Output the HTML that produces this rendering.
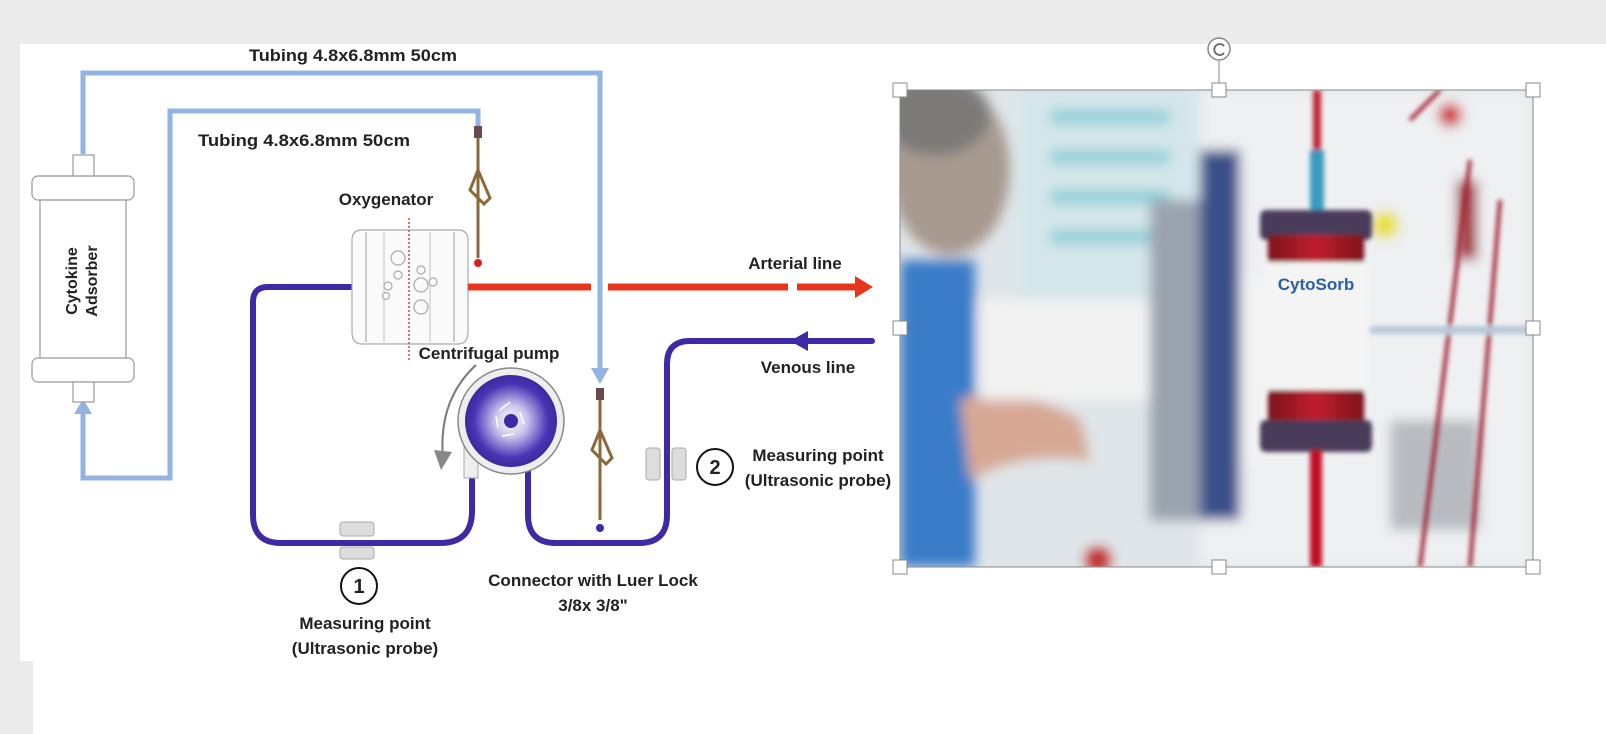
<!DOCTYPE html>
<html><head><meta charset="utf-8"><style>
html,body{margin:0;padding:0;background:#ebebeb;}
svg{display:block;}
text{font-family:"Liberation Sans",sans-serif;font-weight:bold;fill:#222;}
</style></head><body>
<svg width="1606" height="734" viewBox="0 0 1606 734" xmlns="http://www.w3.org/2000/svg">
<defs>
<radialGradient id="pg" cx="50%" cy="50%" r="50%">
<stop offset="0" stop-color="#ffffff"/><stop offset="0.35" stop-color="#c9c3ee"/><stop offset="0.8" stop-color="#4a35b5"/><stop offset="1" stop-color="#3a2a9e"/></radialGradient>
<filter id="bl" x="-10%" y="-10%" width="120%" height="120%"><feGaussianBlur stdDeviation="6"/></filter>
<filter id="bl2"><feGaussianBlur stdDeviation="2.5"/></filter>
<clipPath id="pc"><rect x="900" y="90" width="633" height="477"/></clipPath>
<linearGradient id="cyl" x1="0" x2="1"><stop offset="0" stop-color="#7a1018"/><stop offset="0.5" stop-color="#c02030"/><stop offset="1" stop-color="#7a1018"/></linearGradient>
</defs>
<rect x="0" y="0" width="1606" height="734" fill="#ebebeb"/>
<rect x="20" y="44" width="1586" height="617" fill="#fff"/>
<rect x="33" y="660" width="1573" height="74" fill="#fff"/>

<g fill="none" stroke="#93b3e2" stroke-width="5">
<polyline points="83,154 83,73 600,73 600,372"/>
<polyline points="83,410 83,478 170,478 170,111 478,111 478,126"/>
</g>
<polygon points="591,368 609,368 600,384" fill="#93b3e2"/>
<polygon points="74,414 92,414 83,399" fill="#93b3e2"/>

<text x="353" y="61" font-size="17" text-anchor="middle" textLength="208" lengthAdjust="spacingAndGlyphs">Tubing 4.8x6.8mm 50cm</text>
<text x="304" y="146" font-size="17" text-anchor="middle" textLength="212" lengthAdjust="spacingAndGlyphs">Tubing 4.8x6.8mm 50cm</text>

<g fill="#fff" stroke="#999" stroke-width="1.2">
<rect x="73" y="155" width="21" height="22"/>
<rect x="40" y="190" width="86" height="180"/>
<rect x="32" y="176" width="102" height="24" rx="6"/>
<rect x="32" y="358" width="102" height="24" rx="6"/>
<rect x="73" y="382" width="21" height="20"/>
</g>
<text transform="translate(77,281) rotate(-90)" font-size="16" text-anchor="middle">Cytokine</text>
<text transform="translate(97,281) rotate(-90)" font-size="16" text-anchor="middle">Adsorber</text>

<g fill="none" stroke="#3d2aa6" stroke-width="6" stroke-linecap="round">
<path d="M352,287 H268 Q253,287 253,302 V515 Q253,543 281,543 H440 Q472,543 472,511 V478"/>
<path d="M872,341 H690 Q667,341 667,364 V515 Q667,543 639,543 H556 Q528,543 528,515 V440 Q528,421 511,421"/>
</g>
<polygon points="790,341 808,331 808,351" fill="#3d2aa6"/>

<text x="386" y="205" font-size="17" text-anchor="middle">Oxygenator</text>
<g fill="#fafafa" stroke="#aaa" stroke-width="1.2">
<path d="M362,230 H458 Q468,230 468,240 V332 Q468,344 458,344 H362 Q352,344 352,332 V240 Q352,230 362,230 Z"/>
<line x1="366" y1="232" x2="366" y2="342"/><line x1="454" y1="232" x2="454" y2="342"/>
<line x1="384" y1="232" x2="384" y2="342" stroke="#ccc"/><line x1="430" y1="232" x2="430" y2="342" stroke="#ccc"/>
<circle cx="398" cy="258" r="7"/><circle cx="398" cy="275" r="4"/><circle cx="388" cy="286" r="4"/><circle cx="386" cy="296" r="3.5"/>
<circle cx="421" cy="270" r="4"/><circle cx="421" cy="285" r="7"/><circle cx="433" cy="282" r="4"/><circle cx="421" cy="307" r="7"/>
</g>
<line x1="409" y1="218" x2="409" y2="360" stroke="#e04040" stroke-width="1.5" stroke-dasharray="2,2"/>

<g stroke="#e8341c" stroke-width="7">
<line x1="468" y1="287" x2="591" y2="287"/>
<line x1="608" y1="287" x2="788" y2="287"/>
<line x1="797" y1="287" x2="858" y2="287"/>
</g>
<polygon points="855,276 873,287 855,298" fill="#e8341c"/>
<text x="795" y="269" font-size="17" text-anchor="middle">Arterial line</text>
<text x="808" y="373" font-size="17" text-anchor="middle">Venous line</text>

<g stroke="#8a6a3a" stroke-width="3" fill="none">
<line x1="478" y1="126" x2="478" y2="258"/>
<path d="M478,170 l-8,20 l14,14 l6,-6 z"/>
<line x1="600" y1="388" x2="600" y2="520"/>
<path d="M600,430 l-8,20 l14,14 l6,-6 z"/>
</g>
<rect x="474" y="126" width="8" height="12" fill="#6a4a4a"/><rect x="596" y="388" width="8" height="12" fill="#6a4a4a"/>
<circle cx="478" cy="263" r="4" fill="#d62020"/><circle cx="600" cy="528" r="4" fill="#3d2aa6"/>

<text x="489" y="359" font-size="17" text-anchor="middle">Centrifugal pump</text>
<rect x="464" y="440" width="14" height="38" fill="#eee" stroke="#aaa"/>
<circle cx="511" cy="421" r="53" fill="#eee" stroke="#888" stroke-width="1.5"/>
<circle cx="511" cy="421" r="46" fill="url(#pg)"/>
<g stroke="#fff" stroke-width="1.5" fill="none"><path d="M500,410 l10,-8 M520,412 l4,12 M514,434 l-12,2 M498,428 l-2,-12"/></g>
<circle cx="511" cy="421" r="7" fill="#3d2aa6"/>
<path d="M476,365 Q438,400 443,458" stroke="#777" stroke-width="2" fill="none"/>
<polygon points="434,450 452,452 441,470" fill="#888"/>

<g fill="#ddd" stroke="#aaa">
<rect x="340" y="522" width="34" height="14" rx="3"/><rect x="340" y="547" width="34" height="12" rx="3"/>
<rect x="646" y="448" width="14" height="32" rx="3"/><rect x="672" y="448" width="14" height="32" rx="3"/>
</g>
<circle cx="359" cy="586" r="18" fill="#fff" stroke="#111" stroke-width="2"/>
<text x="359" y="593" font-size="20" font-weight="normal" text-anchor="middle">1</text>
<circle cx="715" cy="467" r="18" fill="#fff" stroke="#111" stroke-width="2"/>
<text x="715" y="474" font-size="20" font-weight="normal" text-anchor="middle">2</text>
<text x="365" y="629" font-size="17" text-anchor="middle">Measuring point</text>
<text x="365" y="654" font-size="17" text-anchor="middle">(Ultrasonic probe)</text>
<text x="818" y="461" font-size="17" text-anchor="middle">Measuring point</text>
<text x="818" y="486" font-size="17" text-anchor="middle">(Ultrasonic probe)</text>
<text x="593" y="586" font-size="17" text-anchor="middle">Connector with Luer Lock</text>
<text x="593" y="611" font-size="17" text-anchor="middle">3/8x 3/8"</text>

<g clip-path="url(#pc)">
<rect x="900" y="90" width="633" height="477" fill="#dfe5e8"/>
<g filter="url(#bl)">
<rect x="1020" y="90" width="200" height="300" fill="#d4e6ea"/>
<rect x="1050" y="110" width="120" height="14" fill="#8fcfd8"/><rect x="1050" y="150" width="120" height="14" fill="#8fcfd8"/>
<rect x="1050" y="190" width="120" height="14" fill="#8fcfd8"/><rect x="1050" y="230" width="120" height="14" fill="#8fcfd8"/>
<rect x="1200" y="90" width="333" height="477" fill="#eef0f2"/>
<rect x="1160" y="280" width="180" height="180" fill="#f3f3f3"/>
<rect x="1150" y="200" width="50" height="320" fill="#9aa3ad"/>
<rect x="1200" y="150" width="40" height="370" fill="#3b4f8a"/>
<rect x="1390" y="420" width="90" height="110" fill="#b8bcc0"/>
<ellipse cx="950" cy="170" rx="60" ry="85" fill="#a89a90"/>
<ellipse cx="935" cy="115" rx="55" ry="40" fill="#7c7a78"/>
<rect x="900" y="260" width="75" height="307" fill="#3a7cc8"/>
<path d="M960,400 Q1010,380 1080,420 L1090,460 Q1020,450 970,480 Z" fill="#d6a894"/>
<rect x="980" y="300" width="170" height="100" fill="#f2f2f2"/>
<circle cx="1098" cy="560" r="12" fill="#c02020"/>
<rect x="1457" y="180" width="20" height="80" fill="#a01820"/>
<circle cx="1450" cy="115" r="12" fill="#d02020"/>
<circle cx="1385" cy="225" r="14" fill="#e8e020"/>
</g>
<g filter="url(#bl2)">
<rect x="1313" y="90" width="8" height="130" fill="#c02030"/>
<rect x="1310" y="150" width="14" height="60" fill="#3a9ac0"/>
<rect x="1260" y="210" width="112" height="30" rx="6" fill="#4a3a5a"/>
<rect x="1268" y="235" width="96" height="120" fill="url(#cyl)"/>
<rect x="1264" y="262" width="104" height="130" fill="#f4f4f4"/>
<rect x="1268" y="390" width="96" height="40" fill="url(#cyl)"/>
<rect x="1260" y="420" width="112" height="32" rx="6" fill="#4a3a5a"/>
<rect x="1310" y="450" width="12" height="117" fill="#c01020"/>
<path d="M1470,160 L1420,567 M1500,200 L1470,567 M1440,90 L1410,120" stroke="#a02030" stroke-width="4" fill="none"/>
<path d="M1370,330 H1533" stroke="#b8c8d8" stroke-width="8"/>
</g>
<text x="1316" y="290" font-size="17" text-anchor="middle" style="fill:#2a5fa8">CytoSorb</text>
</g>
<rect x="900" y="90" width="633" height="477" fill="none" stroke="#888" stroke-width="1"/>
<line x1="1219" y1="60" x2="1219" y2="90" stroke="#888"/>
<circle cx="1219" cy="49" r="11" fill="#fff" stroke="#888" stroke-width="1.5"/>
<path d="M1224,46 A5.5,5.5 0 1 0 1224,53" stroke="#666" stroke-width="1.8" fill="none"/>
<g fill="#fff" stroke="#888" stroke-width="1">
<rect x="893" y="83" width="14" height="14"/><rect x="1212" y="83" width="14" height="14"/><rect x="1526" y="83" width="14" height="14"/>
<rect x="893" y="321" width="14" height="14"/><rect x="1526" y="321" width="14" height="14"/>
<rect x="893" y="560" width="14" height="14"/><rect x="1212" y="560" width="14" height="14"/><rect x="1526" y="560" width="14" height="14"/>
</g>
</svg>
</body></html>
